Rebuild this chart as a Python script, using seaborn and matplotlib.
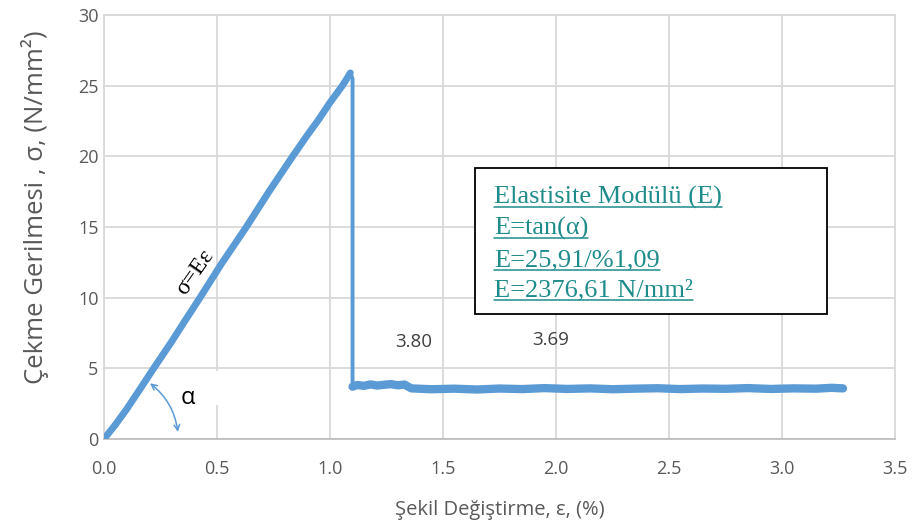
import numpy as np
import pandas as pd

import matplotlib
matplotlib.use('Agg')
import matplotlib.pyplot as plt
from matplotlib.patches import Rectangle
import seaborn as sns

## DATA
# elastic part
strain_rise = [0.00, 0.05, 0.10, 0.15, 0.22, 0.30, 0.36, 0.425, 0.52, 0.63,
               0.73, 0.835, 0.90, 0.95, 1.00, 1.055, 1.075, 1.09]
stress_rise = [0.0, 1.0, 2.1, 3.3, 5.0, 6.9, 8.4, 10.0, 12.4, 15.0,
               17.5, 20.0, 21.5, 22.6, 23.8, 25.0, 25.5, 25.9]
# sudden break
strain_drop = [1.09, 1.10, 1.10]
stress_drop = [25.9, 25.5, 3.7]
# residual plateau
strain_tail = [1.10, 1.12, 1.15, 1.18, 1.21, 1.24, 1.27, 1.30, 1.33,
               1.36, 1.45, 1.55, 1.65, 1.75, 1.85, 1.95, 2.05, 2.15, 2.25,
               2.35, 2.45, 2.55, 2.65, 2.75, 2.85, 2.95, 3.05, 3.15, 3.22, 3.27]
stress_tail = [3.7, 3.82, 3.76, 3.86, 3.78, 3.84, 3.88, 3.80, 3.85,
               3.58, 3.52, 3.56, 3.50, 3.57, 3.53, 3.60, 3.54, 3.58, 3.52,
               3.56, 3.59, 3.53, 3.57, 3.55, 3.60, 3.54, 3.58, 3.56, 3.62, 3.58]

x_ticks = [0.0, 0.5, 1.0, 1.5, 2.0, 2.5, 3.0, 3.5]
y_ticks = [0, 5, 10, 15, 20, 25, 30]

label_values = ['3.80', '3.69']
label_x = [1.37, 1.975]
label_y = [6.86, 7.0]

box_lines = ['Elastisite Modülü (E)', 'E=tan(α)', 'E=25,91/%1,09', 'E=2376,61 N/mm²']
box_baselines = [16.68, 14.44, 12.19, 10.07]

rise = pd.DataFrame({'strain': strain_rise, 'stress': stress_rise})
drop = pd.DataFrame({'strain': strain_drop, 'stress': stress_drop})
tail = pd.DataFrame({'strain': strain_tail, 'stress': stress_tail})

## PLOT
sns.set_style('white')
plt.rcParams['font.family'] = ['Open Sans', 'DejaVu Sans']

grey = '#595959'
teal = '#1F8C8C'
blue = '#5B9BD5'

fig = plt.figure(figsize=(9.16, 5.28), dpi=100)
ax = fig.add_axes([0.1135, 0.1686, 0.8635, 0.803])

# same series, drawn in three pieces so the break line can be thinner
for part, lw in [(rise, 5.0), (drop, 2.8), (tail, 6.0)]:
    sns.lineplot(data=part, x='strain', y='stress', sort=False, estimator=None,
                 color=blue, linewidth=lw, ax=ax, zorder=4,
                 solid_joinstyle='round', solid_capstyle='round')

ax.set_xlim(0, 3.5)
ax.set_ylim(0, 30)
ax.set_xticks(x_ticks)
ax.set_xticklabels([f'{t:.1f}' for t in x_ticks])
ax.set_yticks(y_ticks)
ax.grid(True, color='#d9d9d9', linewidth=1.3, zorder=0)
ax.set_axisbelow(True)
for s in ax.spines.values():
    s.set_color('#d9d9d9')
    s.set_linewidth(1.3)
ax.spines['bottom'].set_color('#bfbfbf')
ax.tick_params(length=0, labelsize=13, colors=grey)
ax.tick_params(axis='x', pad=15)
ax.tick_params(axis='y', pad=4)

ax.set_xlabel('Şekil Değiştirme, ε, (%)', fontsize=14.5, color=grey, labelpad=16)
ax.set_ylabel('Çekme Gerilmesi , σ, (N/mm²)', fontsize=18.5, color=grey)
ax.yaxis.set_label_coords(-0.069, 0.547)

# data labels
for v, lx, ly in zip(label_values, label_x, label_y):
    ax.text(lx, ly, v, ha='center', va='center', fontsize=13.5, color='#404040', zorder=5)

# angle marker
ax.add_patch(Rectangle((0.30, 2.4), 0.205, 2.4, facecolor='white', edgecolor='none', zorder=2.5))
ax.annotate('', xy=(0.327, 0.5), xytext=(0.204, 3.94),
            arrowprops=dict(arrowstyle='<->', color=blue, lw=1.1,
                            connectionstyle='arc3,rad=-0.2', shrinkA=0, shrinkB=0),
            zorder=5)
ax.text(0.372, 2.9, 'α', ha='center', va='center', fontsize=17, color='black', zorder=5)
ax.text(0.405, 11.8, 'σ=Eε', ha='center', va='center', fontsize=17, rotation=55,
        family='Liberation Serif', color='black', zorder=5)

# modulus box
ax.add_patch(Rectangle((1.642, 8.85), 1.556, 10.31, facecolor='white',
                       edgecolor='black', linewidth=1.3, zorder=6))
texts = []
for line, yb in zip(box_lines, box_baselines):
    t = ax.text(1.726, yb, line, ha='left', va='baseline', fontsize=19,
                family='Liberation Serif', color=teal, zorder=7)
    texts.append(t)

# underline each line of the box
fig.canvas.draw()
renderer = fig.canvas.get_renderer()
inv = ax.transData.inverted()
for t, yb in zip(texts, box_baselines):
    bb = t.get_window_extent(renderer)
    base_px = ax.transData.transform((1.726, yb))[1]
    x0, y0 = inv.transform((bb.x0, base_px - 3.5))
    x1, _ = inv.transform((bb.x1, base_px - 3.5))
    ax.plot([x0, x1], [y0, y0], color=teal, linewidth=1.1, zorder=7)

fig.savefig('out.png', dpi=100)
